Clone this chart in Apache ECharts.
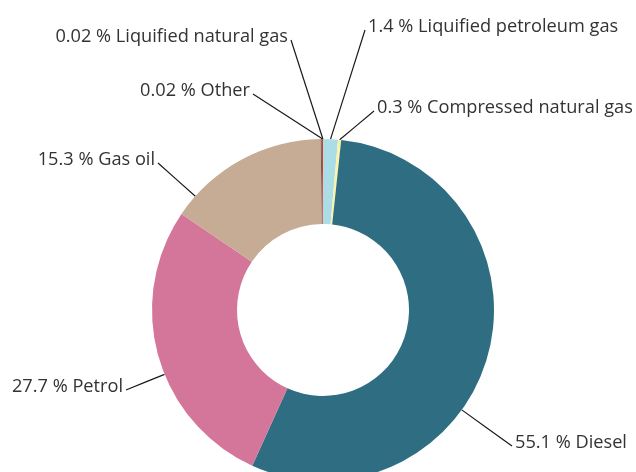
<!DOCTYPE html>
<html>
<head>
<meta charset="utf-8">
<script src="https://cdn.jsdelivr.net/npm/echarts@6/dist/echarts.min.js"></script>
<style>
  html, body { margin: 0; padding: 0; background: #fff; }
  #main { width: 636px; height: 472px; }
</style>
</head>
<body>
<div id="main"></div>
<script>
// fuel categories, clockwise from 12 o'clock
const categories = [
  "Liquified petroleum gas",
  "Compressed natural gas",
  "Diesel",
  "Petrol",
  "Gas oil",
  "Other",
  "Liquified natural gas"
];
// share in %
const shares = [1.4, 0.3, 55.1, 27.7, 15.3, 0.02, 0.02];
const labelTexts = ["1.4", "0.3", "55.1", "27.7", "15.3", "0.02", "0.02"];

const colors = ["#abdde7", "#fbf3a6", "#2f6e82", "#d4769a", "#c6ab95", "#7a5a48", "#d0402a"];

// donut geometry (px)
const CX = 323, CY = 310, R0 = 86, R = 171;

// where each label sits
const labelPos = [
  { x: 368, y: 27, align: "left" },
  { x: 377, y: 108, align: "left" },
  { x: 515, y: 443, align: "left" },
  { x: 123, y: 387, align: "right" },
  { x: 155, y: 160, align: "right" },
  { x: 250, y: 91, align: "right" },
  { x: 288, y: 37, align: "right" }
];

// start/end angle of each slice (deg, clockwise from top)
const total = shares.reduce((a, b) => a + b, 0);
const ranges = [];
let acc = 0;
for (let i = 0; i < shares.length; i++) {
  const a0 = acc / total * 360;
  acc += shares[i];
  ranges.push([a0, acc / total * 360]);
}

function pointAt(t) {
  const rad = t * Math.PI / 180;
  return [CX + R * Math.sin(rad), CY - R * Math.cos(rad)];
}

var myChart = echarts.init(document.getElementById("main"));

var option = {
  animation: false,
  color: colors,
  series: [
    {
      type: "pie",
      center: [CX, CY],
      radius: [R0, R],
      startAngle: 90,
      clockwise: true,
      minAngle: 0.4,
      avoidLabelOverlap: false,
      data: categories.map(function (c, i) {
        return { name: c, value: shares[i] };
      }),
      label: {
        show: true,
        position: "outside",
        fontFamily: "Open Sans",
        fontSize: 18.2,
        color: "#333",
        formatter: function (p) {
          return labelTexts[p.dataIndex] + " % " + p.name;
        }
      },
      labelLine: {
        show: true,
        lineStyle: { color: "#1a1a1a", width: 1.2 }
      },
      labelLayout: function (params) {
        var i = params.dataIndex;
        var p = labelPos[i];
        // point on the label where the line begins
        var lx = p.align === "right" ? p.x + 3 : p.x - 3;
        var ly = p.y + 3;
        var t = Math.atan2(lx - CX, -(ly - CY)) * 180 / Math.PI;
        if (t < 0) t += 360;
        var r = ranges[i];
        if (t < r[0] || t > r[1]) t = (r[0] + r[1]) / 2;
        var anchor = pointAt(t);
        return {
          x: p.x,
          y: p.y,
          align: p.align,
          verticalAlign: "middle",
          labelLinePoints: [anchor, [(anchor[0] + lx) / 2, (anchor[1] + ly) / 2], [lx, ly]]
        };
      }
    }
  ]
};

myChart.setOption(option, true);
</script>
</body>
</html>
